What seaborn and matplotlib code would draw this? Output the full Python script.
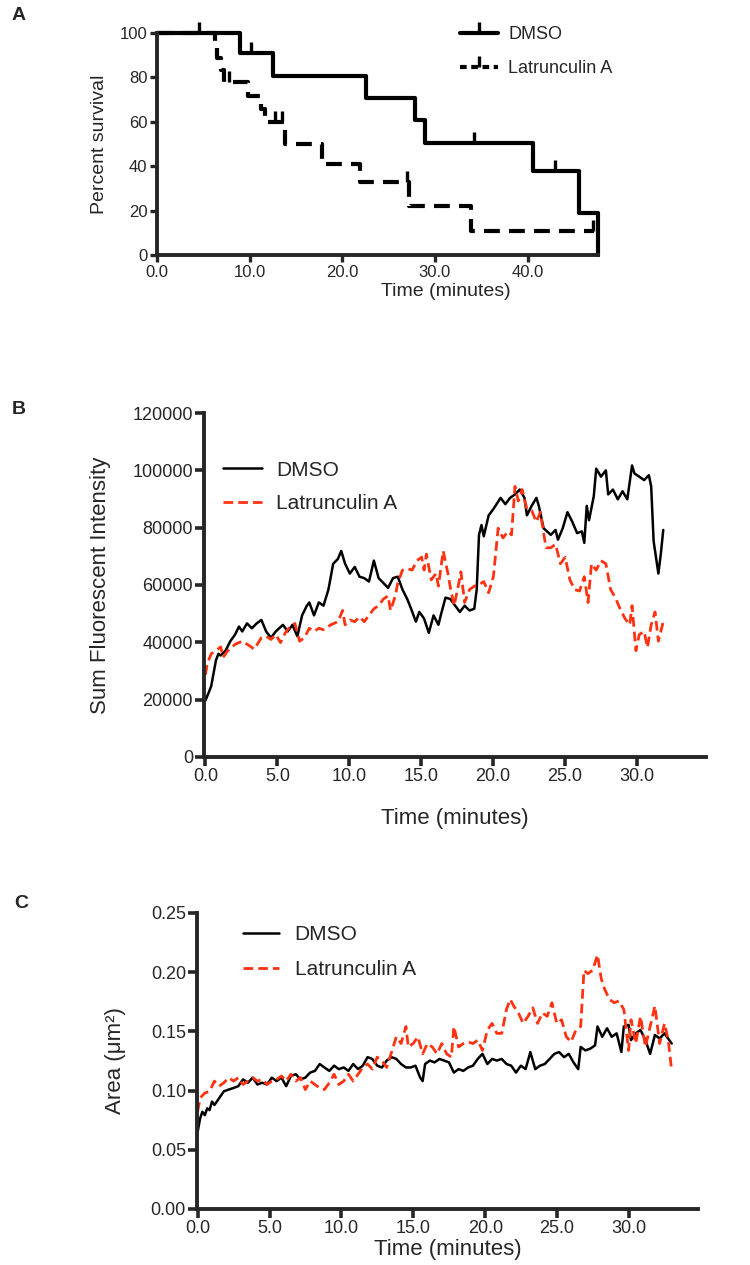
import numpy as np
import pandas as pd
import matplotlib
matplotlib.use("Agg")
import matplotlib.pyplot as plt
from matplotlib.lines import Line2D
from matplotlib.ticker import FormatStrFormatter
import seaborn as sns

# ---------------- data ----------------
# A: Kaplan-Meier steps (time in minutes, percent survival)
dmso_km_t = [0.0, 9.0, 12.5, 22.6, 27.9, 28.9, 40.6, 45.5, 47.6]
dmso_km_s = [100, 90.9, 80.8, 70.7, 60.6, 50.5, 37.9, 18.9, 0]
dmso_cens_t = [4.5, 10.1, 34.2, 43.0]
dmso_cens_s = [100, 90.9, 50.5, 37.9]

lat_km_t = [0.0, 6.3, 6.5, 6.9, 7.2, 9.8, 11.2, 11.7, 13.8, 17.85, 21.9, 27.2, 33.9, 47.2]
lat_km_s = [100, 94.4, 88.9, 83.3, 77.8, 71.8, 65.8, 59.8, 50.0, 41.2, 32.9, 22.2, 10.8, 10.8]
lat_cens_t = [7.8, 12.7, 13.5, 26.96, 47.1]
lat_cens_s = [77.8, 59.8, 59.8, 32.9, 10.8]

# B: sum fluorescent intensity (thousands)
b_dmso_t = [0.00, 0.23, 0.40, 0.73, 0.90, 1.06, 1.40, 1.73, 2.06, 2.33, 2.56, 2.89, 3.23, 3.56,
            3.89, 4.22, 4.56, 4.89, 5.39, 5.72, 6.05, 6.39, 6.72, 7.05, 7.22, 7.55, 7.88, 8.21,
            8.55, 8.88, 9.21, 9.44, 9.71, 10.04, 10.38, 10.71, 11.04, 11.37, 11.71, 12.04, 12.37,
            12.70, 13.04, 13.37, 13.70, 14.03, 14.30, 14.63, 14.87, 15.20, 15.53, 15.86, 16.20,
            16.36, 16.69, 17.03, 17.36, 17.69, 18.02, 18.36, 18.69, 18.86, 19.02, 19.19, 19.35,
            19.69, 20.02, 20.52, 20.85, 21.18, 21.52, 21.85, 22.18, 22.35, 22.68, 23.01, 23.18,
            23.51, 24.01, 24.34, 24.51, 24.84, 25.17, 25.51, 25.84, 26.17, 26.34, 26.51, 26.67,
            27.00, 27.17, 27.50, 27.84, 28.00, 28.33, 28.67, 29.00, 29.33, 29.66, 29.83, 30.16,
            30.50, 30.83, 30.99, 31.16, 31.49, 31.66, 31.83]
b_dmso_v = [19.7, 22.5, 24.7, 33.7, 36.0, 35.4, 37.1, 40.4, 42.7, 45.5, 43.8, 46.6, 44.9, 46.6,
            47.8, 43.8, 41.6, 43.8, 46.1, 43.8, 46.1, 42.1, 49.4, 52.8, 53.9, 49.4, 53.9, 52.8,
            58.4, 67.4, 69.1, 71.9, 67.4, 64.0, 66.3, 62.9, 62.4, 61.2, 68.5, 62.4, 60.7,
            59.0, 62.4, 62.9, 58.4, 55.1, 51.7, 47.2, 50.6, 48.3, 43.3, 49.4, 46.1,
            49.4, 55.6, 55.1, 52.8, 50.6, 52.8, 51.1, 51.7, 58.4, 77.5, 80.9, 77.0,
            84.3, 86.5, 90.4, 88.2, 90.4, 91.6, 93.3, 90.4, 84.3, 87.6, 90.4, 87.6,
            79.8, 77.5, 79.2, 75.8, 79.8, 85.4, 82.0, 78.1, 78.7, 74.7, 87.6, 82.6,
            91.0, 100.6, 97.8, 100.0, 91.6, 93.3, 89.9, 92.7, 89.9, 101.7, 98.9, 97.8,
            96.6, 98.3, 94.4, 75.3, 64.0, 70.8, 79.2]

b_lat_t = [0.00, 0.13, 0.40, 0.73, 1.06, 1.23, 1.56, 2.06, 2.56, 3.06, 3.39, 3.89, 4.22, 4.56,
           4.89, 5.22, 5.55, 5.89, 6.22, 6.55, 6.88, 7.22, 7.55, 7.88, 8.21, 8.71, 9.21, 9.54,
           9.71, 10.04, 10.38, 10.71, 11.04, 11.37, 11.71, 12.04, 12.37, 12.70, 12.87, 13.20,
           13.37, 13.70, 14.03, 14.37, 14.70, 15.03, 15.20, 15.36, 15.70, 16.03, 16.20, 16.53,
           16.86, 17.03, 17.29, 17.53, 17.76, 18.02, 18.36, 18.69, 19.02, 19.35, 19.69, 20.02,
           20.35, 20.69, 21.02, 21.28, 21.52, 21.75, 22.02, 22.35, 22.68, 23.01, 23.28, 23.68,
           24.01, 24.34, 24.68, 25.01, 25.34, 25.67, 26.01, 26.34, 26.60, 26.84, 27.17, 27.50,
           27.84, 28.17, 28.50, 28.83, 29.17, 29.50, 29.66, 29.93, 30.16, 30.50, 30.73, 30.99,
           31.26, 31.49, 31.83]
b_lat_v = [28.7, 32.6, 36.0, 37.1, 38.4, 34.8, 37.1, 39.3, 40.4, 38.8, 37.6, 41.6, 42.1, 41.0,
           42.7, 39.9, 43.3, 45.5, 46.6, 40.4, 41.6, 44.9, 43.8, 44.9, 44.4, 46.1, 47.2, 51.1,
           46.1, 47.8, 47.2, 48.9, 47.2, 49.4, 51.7, 52.8, 55.1, 56.2, 51.1, 56.2,
           60.7, 65.2, 65.7, 65.2, 68.5, 69.7, 65.2, 70.8, 61.8, 64.0, 59.6, 71.9,
           64.0, 59.0, 52.8, 58.4, 64.6, 53.9, 58.4, 59.6, 60.1, 61.2, 57.3, 62.9,
           79.8, 76.4, 78.7, 77.5, 94.4, 89.3, 93.3, 86.5, 86.0, 82.0, 85.4, 73.0,
           73.0, 74.2, 67.4, 69.7, 61.8, 58.4, 57.9, 62.9, 53.9, 67.4, 65.2, 68.5,
           67.4, 58.4, 55.6, 51.7, 48.3, 46.1, 52.8, 37.1, 42.7, 43.8, 38.2, 46.1,
           50.6, 40.4, 47.2]

# C: area (um^2)
c_dmso_t = [0.00, 0.17, 0.33, 0.50, 0.67, 0.83, 1.00, 1.17, 1.50, 1.83, 2.16, 2.50, 2.83, 3.16,
            3.50, 3.83, 4.16, 4.50, 4.83, 5.16, 5.49, 5.83, 6.16, 6.49, 6.83, 7.16, 7.49, 7.83,
            8.16, 8.49, 8.82, 9.16, 9.49, 9.82, 10.16, 10.49, 10.82, 11.16, 11.49, 11.82, 12.15,
            12.49, 12.82, 13.15, 13.49, 13.82, 14.15, 14.49, 14.82, 15.15, 15.48, 15.65, 15.82,
            16.15, 16.48, 16.82, 17.15, 17.48, 17.82, 18.15, 18.48, 18.81, 19.15, 19.48, 19.81,
            20.15, 20.48, 20.81, 21.15, 21.48, 21.81, 22.14, 22.48, 22.81, 23.14, 23.48, 23.81,
            24.14, 24.48, 24.81, 25.14, 25.48, 25.81, 26.14, 26.47, 26.64, 26.97, 27.31, 27.64,
            27.81, 28.14, 28.47, 28.80, 29.14, 29.47, 29.64, 29.97, 30.14, 30.47, 30.80, 31.14,
            31.47, 31.80, 32.13, 32.47, 32.63, 32.97]
c_dmso_v = [0.0648, 0.0763, 0.0821, 0.0792, 0.0850, 0.0835, 0.0907, 0.0878, 0.0936, 0.0994,
            0.1008, 0.1022, 0.1037, 0.1094, 0.1066, 0.1109, 0.1051, 0.1066, 0.1051, 0.1109,
            0.1080, 0.1109, 0.1037, 0.1123, 0.1138, 0.1094, 0.1109, 0.1152, 0.1166, 0.1224,
            0.1195, 0.1166, 0.1210, 0.1181, 0.1195, 0.1166, 0.1224, 0.1181, 0.1210, 0.1282,
            0.1267, 0.1210, 0.1195, 0.1253, 0.1282, 0.1267, 0.1224, 0.1195, 0.1195, 0.1210,
            0.1109, 0.1080, 0.1224, 0.1253, 0.1238, 0.1267, 0.1253, 0.1238, 0.1152, 0.1181,
            0.1166, 0.1195, 0.1210, 0.1267, 0.1310, 0.1224, 0.1267, 0.1253, 0.1267, 0.1224,
            0.1210, 0.1152, 0.1210, 0.1181, 0.1325, 0.1181, 0.1210, 0.1224, 0.1267, 0.1310,
            0.1325, 0.1282, 0.1310, 0.1238, 0.1181, 0.1368, 0.1339, 0.1354, 0.1382, 0.1541,
            0.1454, 0.1526, 0.1454, 0.1483, 0.1325, 0.1541, 0.1555, 0.1426, 0.1483, 0.1512,
            0.1426, 0.1310, 0.1469, 0.1440, 0.1483, 0.1454, 0.1397]

c_lat_t = [0.00, 0.17, 0.50, 0.83, 1.17, 1.50, 1.83, 2.16, 2.50, 2.83, 3.16, 3.50, 3.83, 4.16,
           4.50, 4.83, 5.16, 5.49, 5.83, 6.16, 6.49, 6.83, 7.16, 7.49, 7.83, 8.16, 8.49, 8.82,
           9.16, 9.49, 9.82, 10.16, 10.49, 10.82, 11.16, 11.49, 11.82, 12.15, 12.49, 12.82,
           13.15, 13.49, 13.82, 14.15, 14.49, 14.65, 14.99, 15.32, 15.65, 15.98, 16.32, 16.65,
           16.98, 17.32, 17.65, 17.82, 18.15, 18.48, 18.81, 19.15, 19.48, 19.81, 20.15, 20.48,
           20.81, 21.15, 21.48, 21.74, 21.98, 22.31, 22.64, 22.98, 23.31, 23.64, 23.98, 24.31,
           24.64, 24.98, 25.31, 25.64, 25.97, 26.31, 26.64, 26.87, 27.14, 27.47, 27.81, 28.07,
           28.30, 28.64, 28.97, 29.30, 29.64, 29.97, 30.14, 30.47, 30.80, 31.14, 31.47, 31.80,
           32.13, 32.47, 32.73, 32.97]
c_lat_v = [0.0821, 0.0936, 0.0979, 0.0994, 0.1080, 0.1037, 0.1066, 0.1109, 0.1080, 0.1109,
           0.1051, 0.1080, 0.1109, 0.1080, 0.1094, 0.1051, 0.1080, 0.1094, 0.1123, 0.1080,
           0.1138, 0.1080, 0.1109, 0.1008, 0.1080, 0.1051, 0.1022, 0.1008, 0.1066, 0.1138,
           0.1051, 0.1080, 0.1138, 0.1080, 0.1138, 0.1195, 0.1224, 0.1181, 0.1282, 0.1253,
           0.1195, 0.1325, 0.1454, 0.1397, 0.1541, 0.1368, 0.1397, 0.1454, 0.1310, 0.1397,
           0.1368, 0.1310, 0.1397, 0.1310, 0.1282, 0.1541, 0.1368, 0.1397, 0.1411, 0.1397,
           0.1426, 0.1339, 0.1512, 0.1567, 0.1483, 0.1483, 0.1685, 0.1771, 0.1714, 0.1656,
           0.1567, 0.1627, 0.1699, 0.1567, 0.1656, 0.1627, 0.1742, 0.1567, 0.1598, 0.1454,
           0.1411, 0.1512, 0.1541, 0.2016, 0.1987, 0.2016, 0.2146, 0.1944, 0.1858, 0.1771,
           0.1742, 0.1757, 0.1685, 0.1339, 0.1598, 0.1397, 0.1627, 0.1368, 0.1541, 0.1714,
           0.1397, 0.1567, 0.1426, 0.1166]

labels = ["DMSO", "Latrunculin A"]
red = "#ff3311"

# ---------------- style ----------------
sns.set_style("ticks")
plt.rcParams['font.family'] = ['Liberation Sans', 'DejaVu Sans']

fig = plt.figure(figsize=(7.5, 12.65), dpi=100)
axA = fig.add_axes([0.2093, 0.7984, 0.588, 0.1755])
axB = fig.add_axes([0.2720, 0.4016, 0.6693, 0.2719])
axC = fig.add_axes([0.2627, 0.0443, 0.6680, 0.2340])

# ---------------- panel A ----------------
sns.lineplot(x=dmso_km_t, y=dmso_km_s, drawstyle='steps-post', color='black', lw=3,
             estimator=None, sort=False, ax=axA, clip_on=False)
sns.lineplot(x=lat_km_t, y=lat_km_s, drawstyle='steps-post', color='black', lw=3,
             estimator=None, sort=False, ax=axA, clip_on=False)
axA.lines[-1].set_dashes([3.8, 2.2])
axA.plot(dmso_cens_t, dmso_cens_s, ls='', marker=2, ms=8, mew=2.4, color='black', clip_on=False)
axA.plot(lat_cens_t, lat_cens_s, ls='', marker=2, ms=8, mew=2.4, color='black', clip_on=False)

axA.set_xlim(0, 47.6)
axA.set_ylim(0, 100)
axA.set_xticks([0, 10, 20, 30, 40])
axA.set_yticks([0, 20, 40, 60, 80, 100])
axA.xaxis.set_major_formatter(FormatStrFormatter('%.1f'))
axA.set_xlabel('Time (minutes)', fontsize=14)
axA.set_ylabel('Percent survival', fontsize=14)
axA.xaxis.set_label_coords(0.655, -0.128)
axA.yaxis.set_label_coords(-0.111, 0.5)
axA.tick_params(labelsize=12, width=2.4, length=5, pad=2, direction='out')
for s in ['left', 'bottom']:
    axA.spines[s].set_linewidth(2.8)
sns.despine(ax=axA)

hA = [Line2D([], [], color='black', lw=3, marker=2, ms=8, mew=2.4),
      Line2D([], [], color='black', lw=3, ls=(0, (1.6, 1.1)), marker=2, ms=8, mew=2.4)]
axA.legend(hA, labels, loc='upper left', bbox_to_anchor=(0.613, 0.9795),
           bbox_transform=fig.transFigure, frameon=False, fontsize=13, borderpad=0,
           borderaxespad=0, handlelength=2.1, handletextpad=0.6, labelspacing=0.95)

# ---------------- panel B ----------------
sns.lineplot(x=b_dmso_t, y=np.array(b_dmso_v) * 1000, color='black', lw=1.8,
             estimator=None, sort=False, ax=axB, label=labels[0])
sns.lineplot(x=b_lat_t, y=np.array(b_lat_v) * 1000, color=red, lw=2.0,
             estimator=None, sort=False, ax=axB, label=labels[1])
axB.lines[-1].set_dashes([3.5, 1.8])
axB.set_xlim(-0.1, 34.8)
axB.set_ylim(0, 120000)
axB.set_xticks([0, 5, 10, 15, 20, 25, 30])
axB.set_yticks(np.arange(0, 120001, 20000))
axB.xaxis.set_major_formatter(FormatStrFormatter('%.1f'))
axB.set_xlabel('Time (minutes)', fontsize=16)
axB.set_ylabel('Sum Fluorescent Intensity', fontsize=16)
axB.xaxis.set_label_coords(0.5, -0.148)
axB.yaxis.set_label_coords(-0.185, 0.5)
axB.tick_params(labelsize=13, width=2.6, length=6.5, pad=1.5, direction='out')
for s in ['left', 'bottom']:
    axB.spines[s].set_linewidth(2.8)
sns.despine(ax=axB)
axB.legend(loc='upper left', bbox_to_anchor=(0.297, 0.6359), bbox_transform=fig.transFigure,
           frameon=False, fontsize=15, borderpad=0, borderaxespad=0, handlelength=1.9,
           handletextpad=0.65, labelspacing=0.7)

# ---------------- panel C ----------------
sns.lineplot(x=c_dmso_t, y=c_dmso_v, color='black', lw=1.8,
             estimator=None, sort=False, ax=axC, label=labels[0])
sns.lineplot(x=c_lat_t, y=c_lat_v, color=red, lw=2.0,
             estimator=None, sort=False, ax=axC, label=labels[1])
axC.lines[-1].set_dashes([3.5, 1.8])
axC.set_xlim(-0.04, 34.8)
axC.set_ylim(0, 0.25)
axC.set_xticks([0, 5, 10, 15, 20, 25, 30])
axC.set_yticks([0, 0.05, 0.10, 0.15, 0.20, 0.25])
axC.xaxis.set_major_formatter(FormatStrFormatter('%.1f'))
axC.yaxis.set_major_formatter(FormatStrFormatter('%.2f'))
axC.set_xlabel('Time (minutes)', fontsize=16)
axC.set_ylabel('Area (μm²)', fontsize=16)
axC.xaxis.set_label_coords(0.5, -0.101)
axC.yaxis.set_label_coords(-0.142, 0.5)
axC.tick_params(labelsize=13, width=2.6, length=6.5, pad=1.5, direction='out')
for s in ['left', 'bottom']:
    axC.spines[s].set_linewidth(2.8)
sns.despine(ax=axC)
axC.legend(loc='upper left', bbox_to_anchor=(0.324, 0.2684), bbox_transform=fig.transFigure,
           frameon=False, fontsize=15, borderpad=0, borderaxespad=0, handlelength=1.73,
           handletextpad=0.75, labelspacing=0.75)

# panel letters
for letter, (px, py) in zip("ABC", [(19, 16), (19, 409), (21, 904)]):
    fig.text(px / 750, 1 - py / 1265, letter, fontsize=14, fontweight='bold',
             ha='center', va='center')

fig.savefig("out.png", dpi=100)
